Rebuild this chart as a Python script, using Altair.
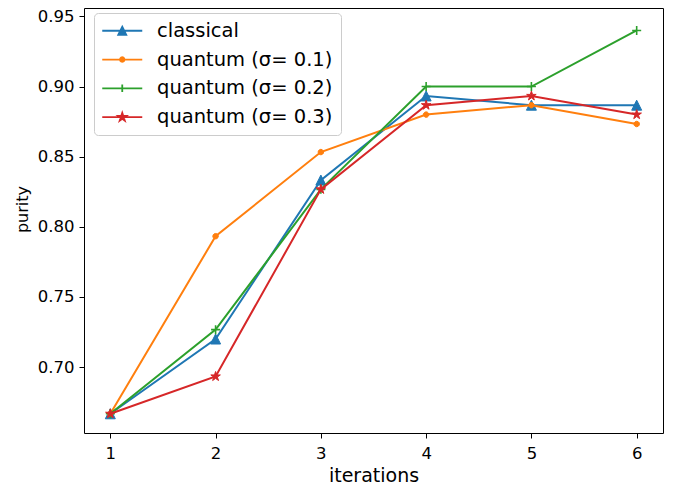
import altair as alt
import pandas as pd

# ---------------- data ----------------
iterations = [1, 2, 3, 4, 5, 6]
classical = [0.6667, 0.7200, 0.8333, 0.8933, 0.8867, 0.8867]
quantum_01 = [0.6667, 0.7933, 0.8533, 0.8800, 0.8867, 0.8733]
quantum_02 = [0.6667, 0.7267, 0.8267, 0.9000, 0.9000, 0.9400]
quantum_03 = [0.6667, 0.6933, 0.8267, 0.8867, 0.8933, 0.8800]
series_names = ["classical", "quantum (σ= 0.1)", "quantum (σ= 0.2)", "quantum (σ= 0.3)"]
series_colors = ["#1f77b4", "#ff7f0e", "#2ca02c", "#d62728"]
x_ticks = [1, 2, 3, 4, 5, 6]
y_ticks = [0.70, 0.75, 0.80, 0.85, 0.90, 0.95]

# ---------------- marker shapes (unit square paths) ----------------
TRI = "M0,-1L1,1L-1,1Z"
CIRC = ("M0.55,0L0.476,0.275L0.275,0.476L0,0.55L-0.275,0.476L-0.476,0.275"
        "L-0.55,0L-0.476,-0.275L-0.275,-0.476L0,-0.55L0.275,-0.476L0.476,-0.275Z")
PLUS = "M-0.9,0H0.9M0,-0.9V0.9"
STAR = ("M0,-1L0.225,-0.309L0.951,-0.309L0.363,0.118L0.588,0.809L0,0.382"
        "L-0.588,0.809L-0.363,0.118L-0.951,-0.309L-0.225,-0.309Z")
# slightly smaller copies for the legend keys (line + marker)
TRI_L = "M0,-0.8L0.8,0.8L-0.8,0.8Z"
CIRC_L = ("M0.45,0L0.39,0.225L0.225,0.39L0,0.45L-0.225,0.39L-0.39,0.225"
          "L-0.45,0L-0.39,-0.225L-0.225,-0.39L0,-0.45L0.225,-0.39L0.39,-0.225Z")
PLUS_L = "M0,-0.75V0.75"
STAR_L = ("M0,-0.85L0.191,-0.263L0.808,-0.263L0.309,0.1L0.5,0.688L0,0.325"
          "L-0.5,0.688L-0.309,0.1L-0.808,-0.263L-0.191,-0.263Z")
LINE = "M-4,0H4"
marker_paths = [TRI, CIRC, PLUS, STAR]
marker_filled = [True, True, False, True]
legend_paths = [LINE + p for p in [TRI_L, CIRC_L, PLUS_L, STAR_L]]

rows = []
for name, vals in zip(series_names, [classical, quantum_01, quantum_02, quantum_03]):
    for it, v in zip(iterations, vals):
        rows.append({"iteration": it, "purity": v, "series": name})
df = pd.DataFrame(rows)

FONT = "DejaVu Sans"

x_enc = alt.X(
    "iteration:Q",
    scale=alt.Scale(domain=[0.75, 6.25], nice=False, zero=False),
    axis=alt.Axis(
        values=x_ticks, format="d", title="iterations", labelAngle=0,
        labelBaseline="alphabetic", labelPadding=20,
        titleFontSize=19, titleY=48, titleBaseline="alphabetic",
    ),
)
y_enc = alt.Y(
    "purity:Q",
    scale=alt.Scale(domain=[0.653, 0.956], nice=False, zero=False),
    axis=alt.Axis(
        values=y_ticks, format=".2f", title="purity", labelPadding=5,
        titleFontSize=16, titleAngle=270, titleX=-57, titleY=201,
        titleBaseline="alphabetic", titleAlign="center",
    ),
)

base = alt.Chart(df)

series_layers = []
for name, col, path, filled in zip(series_names, series_colors, marker_paths, marker_filled):
    sub = base.transform_filter(alt.datum.series == name)
    line = sub.mark_line(strokeWidth=2, color=col).encode(x=x_enc, y=y_enc)
    if filled:
        pts = sub.mark_point(shape=path, filled=True, fill=col, stroke=col, strokeWidth=1,
                             size=100, opacity=1).encode(x=x_enc, y=y_enc)
    else:
        pts = sub.mark_point(shape=path, filled=False, stroke=col, strokeWidth=1.6,
                             size=100, opacity=1).encode(x=x_enc, y=y_enc)
    series_layers += [line, pts]

leg = alt.Legend(
    orient="none", legendX=10, legendY=5, title=None,
    labelFont=FONT, labelFontSize=19.5, labelColor="black", labelLimit=400,
    symbolSize=100, symbolStrokeWidth=1.8, symbolOffset=10.5, labelOffset=25,
    rowPadding=7.8, padding=8, strokeColor="#cccccc", cornerRadius=4,
    fillColor="white", symbolOpacity=1,
)
legend_layer = (
    base.mark_point(filled=True, size=100, strokeWidth=1.8, opacity=0)
    .encode(
        x=x_enc, y=y_enc,
        fill=alt.Fill("series:N", scale=alt.Scale(domain=series_names, range=series_colors), legend=leg),
        stroke=alt.Stroke("series:N", scale=alt.Scale(domain=series_names, range=series_colors), legend=leg),
        shape=alt.Shape("series:N", scale=alt.Scale(domain=series_names, range=legend_paths), legend=leg),
    )
)

chart = (
    alt.layer(*series_layers, legend_layer)
    .properties(
        width=579, height=425,
        autosize=alt.AutoSizeParams(type="none"),
        padding={"left": 76, "top": 0, "right": 5, "bottom": 55},
        background="white",
    )
    .configure_view(stroke="black", strokeWidth=1)
    .configure_axis(
        domain=False, grid=False,
        tickColor="black", tickSize=5, tickWidth=1,
        labelFont=FONT, labelFontSize=16.5, labelColor="black",
        titleFont=FONT, titleFontWeight="normal", titleColor="black",
    )
)

chart.save("out.html", embed_options={"renderer": "svg", "actions": False})
